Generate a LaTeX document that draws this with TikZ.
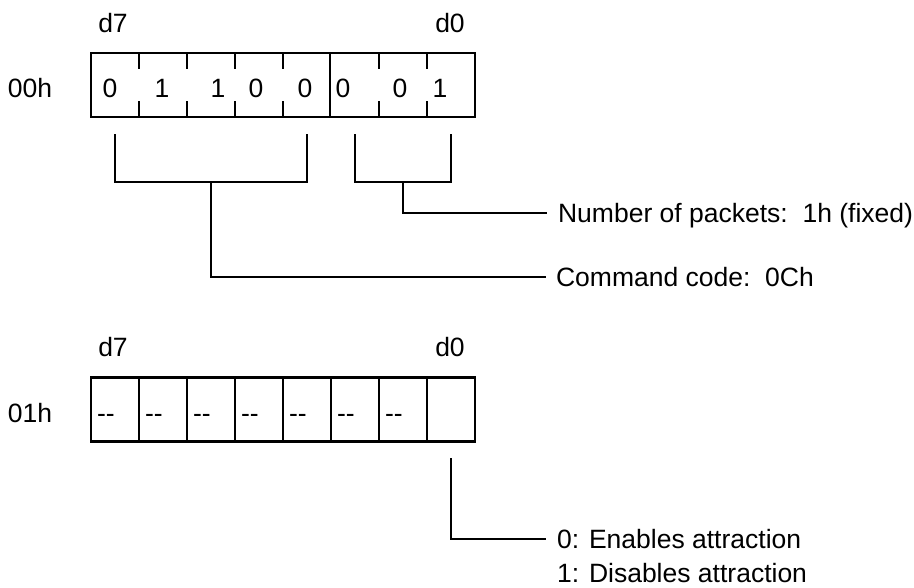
\documentclass[tikz,border=0pt]{standalone}
\usepackage{fontspec}
\setmainfont{Liberation Sans}
\usetikzlibrary{positioning}

\begin{document}
\begin{tikzpicture}[x=1pt,y=-1pt,line width=2.2pt,
  every node/.style={font=\fontsize{26.5}{31}\selectfont,inner sep=0pt,
    text height=19pt,text depth=0pt},
  reg/.style={draw,minimum width=384pt,minimum height=64pt},
  lbl/.style={anchor=west},
  blank/.style={anchor=west}]
  \useasboundingbox (0,0) rectangle (914,587);
  % register 00h
  \node[reg] (r0) at (283,85) {};
  \node (a0) at (30,88.4) {00h};
  \node (hi0) at (113,23.4) {d7};
  \node (lo0) at (450,23.4) {d0};
  \foreach \x in {139,187,235,283,379,427} {
    \draw (\x,53) -- (\x,69);
    \draw (\x,101) -- (\x,117);
  }
  \draw (r0.north west) ++(240,0) -- ++(0,64);
  \foreach \x/\b [count=\i] in {110/0,162/1,218/1,256/0,305/0,343/0,400/0,440/1}
    \node (b\i) at (\x,88.4) {\b};
  % brackets
  \coordinate (cmdL) at (115,134);
  \coordinate (cmdR) at (307,134);
  \coordinate (cmdJ) at (211,182);
  \coordinate (npkL) at (355,134);
  \coordinate (npkR) at (451,134);
  \coordinate (npkJ) at (403,182);
  \node[lbl] (npk) at (557,212.7) {Number of packets:\ \ 1h (fixed)};
  \node[lbl] (cmd) at (555,277) {Command code:\ \ 0Ch};
  \draw (cmdL) |- (cmdJ) -| (cmdR);
  \draw (npkL) |- (npkJ) -| (npkR);
  \draw[shorten >=10pt] (npkJ) |- (npk.west);
  \draw[shorten >=9pt] (cmdJ) |- (cmd.west);
  % register 01h
  \node[reg] (r1) at (283,409.5) {};
  \node (a1) at (30,413) {01h};
  \node (hi1) at (113,346.5) {d7};
  \node (lo1) at (450,346.5) {d0};
  \foreach \x in {139,187,...,427}
    \draw (\x,378) -- (\x,441);
  \foreach \x [count=\i] in {96,144,...,384}
    \node[blank] (c\i) at (\x,413) {-{}-};
  \coordinate (attrT) at (451,458);
  \node[lbl] (attr0) at (556,539) {0: Enables attraction};
  \node[lbl] (attr1) at (556,572.5) {1: Disables attraction};
  \draw[shorten >=10pt] (attrT) |- (attr0.west);
\end{tikzpicture}
\end{document}
